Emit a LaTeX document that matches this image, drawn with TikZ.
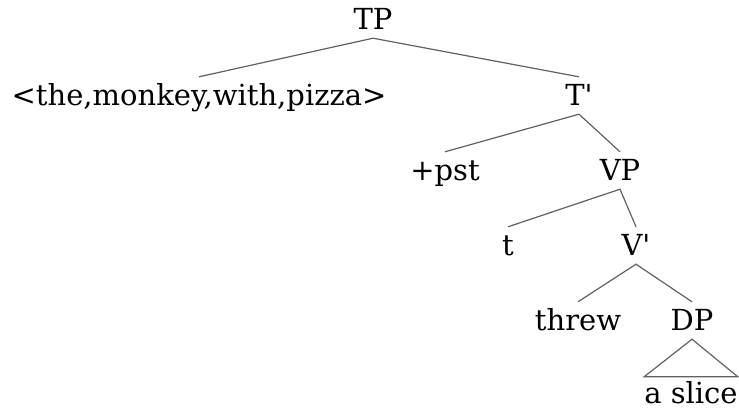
\documentclass[tikz,border=0pt]{standalone}
\usepackage{fontspec}
\setmainfont{DejaVu Serif}
\begin{document}
\begin{tikzpicture}[x=1pt,y=-1pt,
  lab/.style={anchor=base,inner sep=0pt,font=\fontsize{29}{32}\selectfont,text height=28pt,text depth=9pt},
  edge/.style={draw=black!62,line width=1.2pt}]
\useasboundingbox (0,0) rectangle (739,410);
\node[lab] (tp) at (373,29) {TP};
\node[lab] (subj) at (199,105) {<the,monkey,with,pizza>};
\node[lab] (tbar) at (579,105) {T\textquotesingle};
\node[lab] (pst) at (445,180) {+pst};
\node[lab] (vp) at (620,180) {VP};
\node[lab] (t) at (508,255) {t};
\node[lab] (vbar) at (636,255) {V\textquotesingle};
\node[lab] (threw) at (578,330) {threw};
\node[lab] (dp) at (692,330) {DP};
\node[lab,text height=26pt] (slice) at (691,403) {a slice};
\draw[edge] (subj.north) -- (tp.south) -- (tbar.north);
\draw[edge] (pst.north) -- (tbar.south) -- (vp.north);
\draw[edge] (t.north) -- (vp.south) -- (vbar.north);
\draw[edge] (threw.north) -- (vbar.south) -- (dp.north);
\draw[edge,line join=miter] (dp.south) -- (slice.north west) -- (slice.north east) -- cycle;
\end{tikzpicture}
\end{document}
